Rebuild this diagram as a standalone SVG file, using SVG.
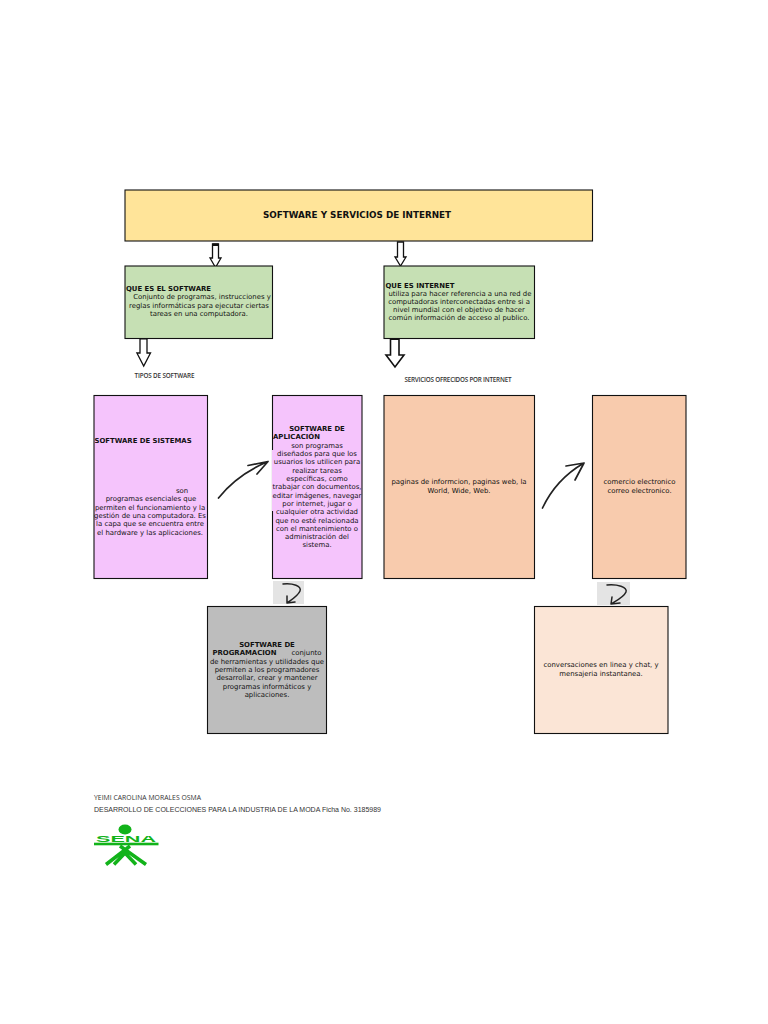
<svg xmlns="http://www.w3.org/2000/svg" width="768" height="1024" viewBox="0 0 768 1024">
<defs>
<style>
.box{stroke:#111;stroke-width:1.100}
text{font-family:"DejaVu Sans",sans-serif;font-size:6.900px;fill:#111;text-anchor:middle;transform:translateY(-0.8px)}
.b{font-weight:700}
.l{text-anchor:start}
.small{font-family:"Open Sans",sans-serif;fill:#333;font-size:7px;text-anchor:start}
.block{fill:#fff;stroke:#111;stroke-width:1.300;stroke-linejoin:miter}
.curve{fill:none;stroke:#222;stroke-width:1.500;stroke-linecap:round;stroke-linejoin:round}
.leg{fill:none;stroke:#12b31a;stroke-width:3.500}
</style>
</defs>
<rect width="768" height="1024" fill="#fff"/>
<g id="connectors">
<path id="c1" class="block" d="M212.500 258v-14h6v14h2.500l-5.500 9.500-5.500-9.500z"/>
<rect x="212.500" y="243.500" width="6" height="2.500" fill="#111"/>
<path id="c2" class="block" d="M397.500 257v-15h6v15h2.500l-5.500 9-5.500-9z"/>
<path id="c3" class="block" d="M140 353v-16h7v16h3.500l-6.800 13-6.800-13z"/>
<rect x="140" y="337" width="7" height="2.500" fill="#111"/>
<path id="c4" class="block" style="stroke-width:1.600" d="M390.500 355v-17h8.500v17h5l-9 12-9-12z"/>
<rect x="390.500" y="337.500" width="8.500" height="2.500" fill="#111"/>
<path id="c5" class="curve" style="stroke-width:1.700" d="M218.500 498C232 481 248 470 268 461.500M248 465.500L268 461.500L257 474"/>
<path id="c6" class="curve" style="stroke-width:1.700" d="M542.500 508C551 490 565 474 584 463M566 466L584 463L575 480"/>
<rect id="c7bg" x="273" y="581" width="31" height="23" fill="#e4e4e4"/>
<path id="c7" class="curve" d="M283 584C293 583 302 586 300 591C298 596 291 600 287 603M287 596L287 603L295 602"/>
<rect id="c8bg" x="597" y="582" width="33" height="23" fill="#e4e4e4"/>
<path id="c8" class="curve" d="M607 585C617 584 628 587 626 592C624 597 616 601 611 604M612 597L611 604L620 603"/>
</g>
<g id="title"><rect class="box" x="125" y="190" width="467.500" height="51" fill="#ffe499"/><text class="b" x="357" y="218.500" style="font-size:8.800px">SOFTWARE Y SERVICIOS DE INTERNET</text></g>
<g id="que-software"><rect class="box" x="125" y="266" width="147.500" height="72.500" fill="#c6e0b4"/>
<text class="b l" x="126" y="292">QUE ES EL SOFTWARE</text>
<text x="202" y="300">Conjunto de programas, instrucciones y</text><text x="199" y="308.500">reglas informáticas para ejecutar ciertas</text><text x="199" y="317">tareas en una computadora.</text></g>
<g id="que-internet"><rect class="box" x="384" y="266" width="150.500" height="72.500" fill="#c6e0b4"/>
<text class="b l" x="385.500" y="289">QUE ES INTERNET</text>
<text x="460" y="296.500">utiliza para hacer referencia a una red de</text><text x="459" y="304.500">computadoras interconectadas entre si a</text><text x="459" y="313">nivel mundial con el objetivo de hacer</text><text x="459" y="321">común información de acceso al publico.</text></g>
<g id="tipos"><text class="small l" x="134.500" y="379" style="font-size:6.300px;font-weight:600" textLength="60">TIPOS DE SOFTWARE</text></g>
<g id="servicios"><text class="small l" x="404.500" y="383" style="font-size:6.300px;font-weight:600" textLength="107">SERVICIOS OFRECIDOS POR INTERNET</text></g>
<g id="sistemas"><rect class="box" x="94" y="395.500" width="113.500" height="183" fill="#f5c4fc"/>
<text class="b l" x="94.500" y="444">SOFTWARE DE SISTEMAS</text>
<text x="182" y="494">son</text><text x="151" y="502">programas esenciales que</text><text x="150" y="510.500">permiten el funcionamiento y la</text><text x="150" y="519">gestión de una computadora. Es</text><text x="150" y="527">la capa que se encuentra entre</text><text x="150" y="535.500">el hardware y las aplicaciones.</text></g>
<g id="aplicacion"><rect class="box" x="272.500" y="395.500" width="89.500" height="183" fill="#f5c4fc"/>
<rect x="272" y="450" width="2" height="61" fill="#f5c4fc"/>
<text class="b" x="317" y="432">SOFTWARE DE</text><text class="b l" x="273" y="440">APLICACIÓN</text>
<text x="317" y="448.500">son programas</text><text x="317" y="457">diseñados para que los</text><text x="317" y="465">usuarios los utilicen para</text><text x="317" y="473.500">realizar tareas</text><text x="317" y="482">específicas, como</text><text x="317" y="490">trabajar con documentos,</text><text x="317" y="498.500">editar imágenes, navegar</text><text x="317" y="506.500">por internet, jugar o</text><text x="317" y="515">cualquier otra actividad</text><text x="317" y="523.500">que no esté relacionada</text><text x="317" y="531.500">con el mantenimiento o</text><text x="317" y="540">administración del</text><text x="317" y="548">sistema.</text></g>
<g id="paginas"><rect class="box" x="384" y="395.500" width="150.500" height="183" fill="#f8cbad"/>
<text x="459" y="485">paginas de informcion, paginas web, la</text><text x="459" y="493.500">World, Wide, Web.</text></g>
<g id="comercio"><rect class="box" x="592.500" y="395.500" width="93.500" height="183" fill="#f8cbad"/>
<text x="639.500" y="485">comercio electronico</text><text x="639.500" y="493.500">correo electronico.</text></g>
<g id="programacion"><rect class="box" x="207.500" y="606.500" width="119" height="127" fill="#bdbdbd"/>
<text class="b" x="267" y="648">SOFTWARE DE</text><text class="b l" x="212.500" y="656">PROGRAMACION</text><text class="l" x="291.500" y="656">conjunto</text>
<text x="267" y="665">de herramientas y utilidades que</text><text x="267" y="673">permiten a los programadores</text><text x="267" y="681">desarrollar, crear y mantener</text><text x="267" y="689.500">programas informáticos y</text><text x="267" y="698">aplicaciones.</text></g>
<g id="conversaciones"><rect class="box" x="534.500" y="606.500" width="133.500" height="127" fill="#fbe5d6"/>
<text x="601" y="668">conversaciones en linea y chat, y</text><text x="601" y="676.500">mensajeria instantanea.</text></g>
<g id="footer">
<text class="small" x="94" y="801" style="font-size:6.800px" textLength="107">YEIMI CAROLINA MORALES OSMA</text>
<text class="small" x="94" y="813" style="font-family:'Liberation Sans',sans-serif;font-size:7px" textLength="287">DESARROLLO DE COLECCIONES PARA LA INDUSTRIA DE LA MODA Ficha No. 3185989</text>
</g>
<g id="logo" fill="#12b31a">
<ellipse cx="125" cy="829.500" rx="6.500" ry="5"/>
<text x="126" y="842.500" style="font-family:'Liberation Sans',sans-serif;font-weight:700;font-size:9.500px;fill:#12b31a" textLength="60" lengthAdjust="spacingAndGlyphs">SENA</text>
<rect x="94" y="842.700" width="64.500" height="2.600"/>
<path class="leg" d="M130 846L106 864.500M120 846L146 864.500M114 864.500L125 853L136 864.500"/>
</g>
</svg>
